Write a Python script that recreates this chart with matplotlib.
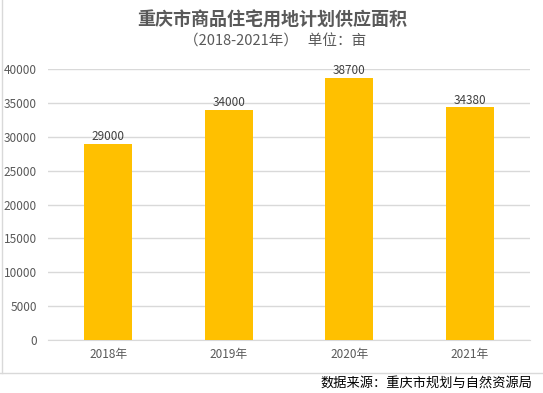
import matplotlib.pyplot as plt
import numpy as np

plt.rcParams['font.family'] = ['Noto Sans CJK SC', 'DejaVu Sans']

# data
years = ['2018年', '2019年', '2020年', '2021年']
area = [29000, 34000, 38700, 34380]
yticks = [0, 5000, 10000, 15000, 20000, 25000, 30000, 35000, 40000]

fig = plt.figure(figsize=(5.43, 3.93), dpi=100)
ax = fig.add_axes([48 / 543, 1 - 340 / 393, 482 / 543, 271 / 393])

x = np.arange(len(years))
ax.bar(x, area, width=0.4, color='#FFC000', zorder=3)
for xi, v in zip(x, area):
    ax.text(xi, v + 50, str(v), ha='center', va='bottom', fontsize=8.5, color='#404040')

ax.set_xlim(-0.5, len(years) - 0.5)
ax.set_ylim(0, 40000)
ax.set_yticks(yticks)
ax.set_yticklabels([str(t) for t in yticks], fontsize=8.5, color='#595959')
ax.set_xticks(x)
ax.set_xticklabels(years, fontsize=8.5, color='#595959')
ax.tick_params(length=0, pad=8)
ax.tick_params(axis='x', pad=6)
ax.grid(axis='y', color='#D9D9D9', linewidth=1, zorder=0)
for s in ['top', 'right', 'left']:
    ax.spines[s].set_visible(False)
ax.spines['bottom'].set_color('#D9D9D9')

# titles
fig.text(272 / 543, 1 - 20 / 393, '重庆市商品住宅用地计划供应面积', ha='center', va='center',
         fontsize=13, fontweight='bold', color='#595959')
fig.text(275 / 543, 1 - 42 / 393, '（2018-2021年）   单位：亩', ha='center', va='center',
         fontsize=10.5, color='#595959')

# chart border (left and bottom) and cell line below
fig.add_artist(plt.Line2D([1.5 / 543, 1.5 / 543], [1 - 373 / 393, 1.0], color='#D9D9D9', lw=1))
fig.add_artist(plt.Line2D([0, 1], [1 - 373 / 393, 1 - 373 / 393], color='#D9D9D9', lw=1))

fig.text(532 / 543, 1 - 383 / 393, '数据来源：重庆市规划与自然资源局', ha='right', va='center',
         fontsize=9.5, color='#000000')

fig.savefig('out.png', dpi=100, facecolor='white')
